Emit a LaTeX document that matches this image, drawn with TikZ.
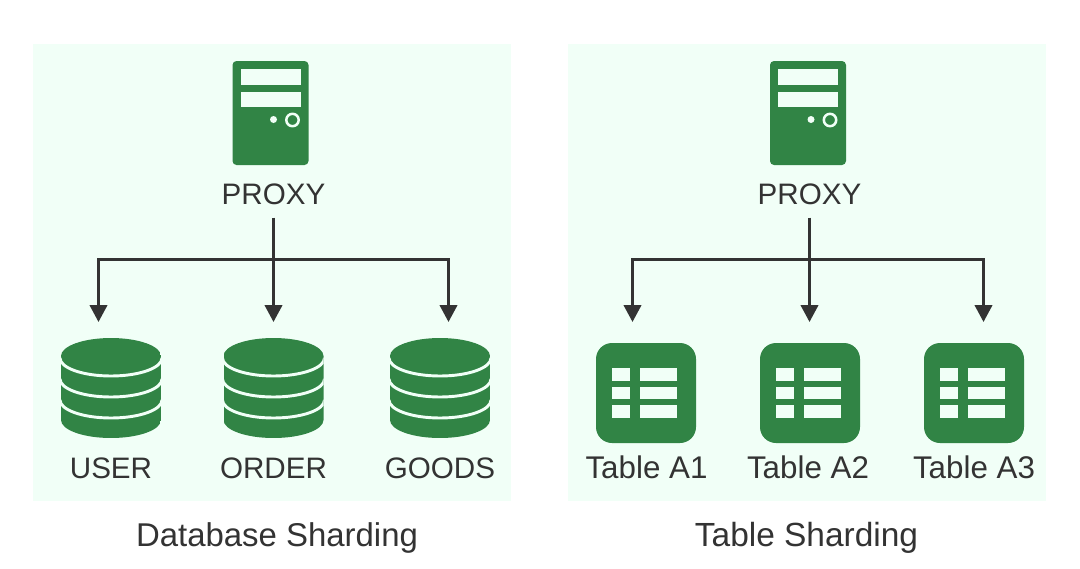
\documentclass[tikz,border=0pt]{standalone}
\usepackage{fontspec}
\usetikzlibrary{arrows.meta}
\setmainfont{Liberation Sans}
\definecolor{panelbg}{HTML}{F1FFF7}
\definecolor{icongreen}{HTML}{318445}
\definecolor{inkgray}{HTML}{333333}
\tikzset{
	panel/.style={fill=panelbg, draw=none},
	label/.style={inner sep=0pt, anchor=base, text=inkgray, font=\fontsize{22.2}{26}\selectfont},
	tablelabel/.style={label, font=\fontsize{23.5}{27}\selectfont},
	caption/.style={inner sep=0pt, anchor=base, text=inkgray, font=\fontsize{24.7}{29}\selectfont},
	link/.style={draw=inkgray, line width=2.25pt, -{Stealth[length=12.75pt, width=13pt, inset=0pt]}},
	pics/server/.style={code={
		\fill[icongreen, rounded corners=3pt] (0,0) rectangle (76,104);
		\fill[panelbg] (8,8) rectangle (68,23.5);
		\fill[panelbg] (8,30.5) rectangle (68,46);
		\fill[panelbg] (41,58.5) circle (3.5);
		\draw[panelbg, line width=1.9pt] (60,59) circle (6.2);
	}},
	pics/dbstack/.style={code={
		\begin{scope}
			\clip (-50,18) arc[start angle=180, end angle=360, x radius=50, y radius=18]
				-- (50,82) arc[start angle=0, end angle=180, x radius=50, y radius=18] -- cycle;
			\fill[icongreen] (-50,0) rectangle (50,100);
			\foreach \yy in {20, 41, 62}
				\draw[panelbg, line width=2.2pt] (-51,\yy) arc[start angle=180, end angle=0, x radius=51, y radius=18];
		\end{scope}
	}},
	pics/tablecard/.style={code={
		\fill[icongreen, rounded corners=12pt] (0,0) rectangle (100,100);
		\foreach \yy in {25, 43.5, 62} {
			\fill[panelbg] (15.5,\yy) rectangle (34,\yy+12.5);
			\fill[panelbg] (43.5,\yy) rectangle (81,\yy+12.5);
		}
	}}
}
\begin{document}
\begin{tikzpicture}[x=0.75pt, y=-0.75pt]
	\useasboundingbox (0,0) rectangle (1080,568);
	\fill[white] (0,0) rectangle (1080,568);
	% panels
	\fill[panel] (33,44) rectangle (511,501);
	\fill[panel] (568,44) rectangle (1046,501);
	% proxies
	\pic at (232.5,61) {server};
	\pic at (770,61) {server};
	\node[label] (proxyL) at (273.5,204) {PROXY};
	\node[label] (proxyR) at (809.5,204) {PROXY};
	% databases
	\foreach \xx/\nm/\txt in {111/dbA/USER, 273.5/dbB/ORDER, 440/dbC/GOODS} {
		\pic at (\xx,338) {dbstack};
		\node[label] (\nm) at (\xx,478) {\txt};
	}
	% tables
	\foreach \xx in {596, 760, 924} {
		\pic at (\xx,343) {tablecard};
	}
	\node[tablelabel] (tabA) at (646.5,478) {Table A1};
	\node[tablelabel] (tabB) at (808,478) {Table A2};
	\node[tablelabel] (tabC) at (974,478) {Table A3};
	% captions
	\node[caption] (capL) at (277,546) {Database Sharding};
	\node[caption, font=\fontsize{25.1}{29}\selectfont] (capR) at (806.5,546) {Table Sharding};
	% connectors
	\coordinate (busL) at (273.5,259.5);
	\coordinate (busR) at (809.5,259.5);
	\coordinate (endL1) at (98.5,322);
	\coordinate (endL2) at (273.5,322);
	\coordinate (endL3) at (448.5,322);
	\coordinate (endR1) at (632.5,322);
	\coordinate (endR2) at (809.5,322);
	\coordinate (endR3) at (983.5,322);
	\draw[link, shorten <=9.75pt] (proxyL.south) -- (endL2);
	\draw[link, shorten <=9.75pt] (proxyR.south) -- (endR2);
	\foreach \s/\t in {L/endL1, L/endL3, R/endR1, R/endR3} {
		\draw[link] (bus\s) -| (\t);
	}
\end{tikzpicture}
\end{document}
